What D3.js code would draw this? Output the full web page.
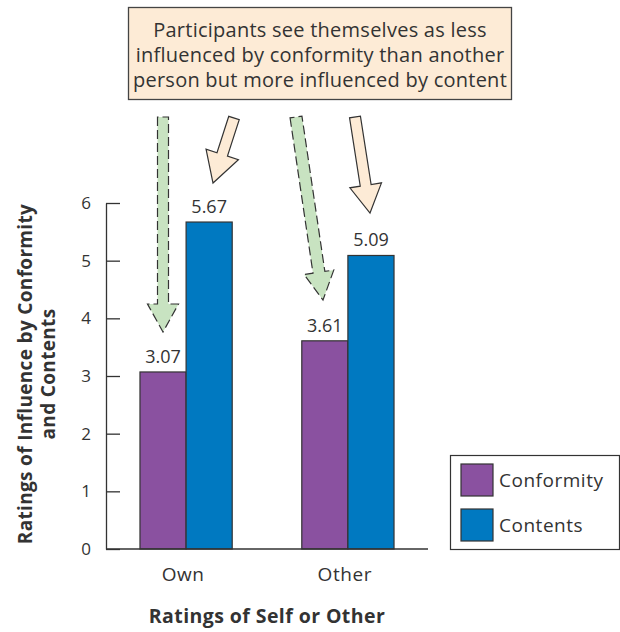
<!DOCTYPE html>
<html>
<head>
<meta charset="utf-8">
<script src="https://cdn.jsdelivr.net/npm/d3@7/dist/d3.min.js"></script>
<style>
  html, body { margin: 0; padding: 0; background: #fff; }
  svg { display: block; }
  text { font-family: "Open Sans", Lato, sans-serif; fill: #333; }
</style>
</head>
<body>
<svg id="chart" width="620" height="632"></svg>
<script>
// ---- data ----
const categories = ["Own", "Other"];
const seriesNames = ["Conformity", "Contents"];
const conformity = [3.07, 3.61];
const contents = [5.67, 5.09];
const yTicks = [0, 1, 2, 3, 4, 5, 6];
const valueLabels = [["3.07", "5.67"], ["3.61", "5.09"]];
const noteLines = [
  "Participants see themselves as less",
  "influenced by conformity than another",
  "person but more influenced by content"
];
const yTitleLines = ["Ratings of Influence by Conformity", "and Contents"];
const xTitle = "Ratings of Self or Other";

const colors = { Conformity: "#8a51a0", Contents: "#0079c1" };
const ink = "#333";

const svg = d3.select("#chart");

// pick a font size so that the reference text width is matched, then spread
// any remainder (after capping the size) as letter-spacing
function fitGroup(sel, refIndex, target, maxSize) {
  const nodes = sel.nodes();
  const ref = nodes[refIndex];
  const base = parseFloat(d3.select(ref).style("font-size"));
  const w = ref.getComputedTextLength();
  let size = Math.min(maxSize, base * target / w);
  nodes.forEach(n => d3.select(n).style("font-size", size.toFixed(2) + "px"));
  const w2 = ref.getComputedTextLength();
  const ls = (target - w2) / Math.max(1, ref.textContent.length - 1);
  nodes.forEach(n => d3.select(n).style("letter-spacing", ls.toFixed(2) + "px"));
}

const x0 = d3.scaleBand().domain(categories).range([106, 428])
  .paddingInner(0.43).paddingOuter(0.21);
const x1 = d3.scaleBand().domain(seriesNames).range([0, x0.bandwidth()]);
const y = d3.scaleLinear().domain([0, 6]).range([549, 203]);
const color = d3.scaleOrdinal().domain(seriesNames).range([colors.Conformity, colors.Contents]);

const rows = categories.map((c, i) => ({
  cat: c,
  vals: [
    { s: "Conformity", v: conformity[i], label: valueLabels[i][0] },
    { s: "Contents", v: contents[i], label: valueLabels[i][1] }
  ]
}));

// bars
const g = svg.append("g");
const groups = g.selectAll("g.grp").data(rows).enter().append("g")
  .attr("class", "grp")
  .attr("transform", d => `translate(${x0(d.cat)},0)`);

groups.selectAll("rect").data(d => d.vals).enter().append("rect")
  .attr("x", d => x1(d.s))
  .attr("y", d => y(d.v))
  .attr("width", x1.bandwidth())
  .attr("height", d => y(0) - y(d.v))
  .attr("fill", d => color(d.s))
  .attr("stroke", ink)
  .attr("stroke-width", 1.2);

groups.selectAll("text.val").data(d => d.vals).enter().append("text")
  .attr("class", "val")
  .attr("x", d => x1(d.s) + x1.bandwidth() / 2)
  .attr("y", d => y(d.v) - 9)
  .attr("text-anchor", "middle")
  .style("font-size", "18px")
  .text(d => d.label);

// y axis
const yAxis = d3.axisLeft(y).tickValues(yTicks).tickFormat(d3.format("d"))
  .tickSizeInner(-14).tickSizeOuter(0).tickPadding(15);
const ya = svg.append("g").attr("transform", "translate(106,0)").call(yAxis);
ya.select(".domain").attr("stroke", ink).attr("stroke-width", 1.3);
ya.selectAll(".tick line").attr("stroke", ink).attr("stroke-width", 1.3);
ya.selectAll(".tick text").style("font-size", "17px").attr("fill", ink)
  .style("font-family", "'Open Sans', sans-serif");

// baseline
svg.append("line")
  .attr("x1", 106).attr("x2", 428)
  .attr("y1", y(0)).attr("y2", y(0))
  .attr("stroke", ink).attr("stroke-width", 1.3);

// x category labels
const cats = svg.selectAll("text.cat").data(categories).enter().append("text")
  .attr("class", "cat")
  .attr("x", d => x0(d) + x0.bandwidth() / 2 - 3)
  .attr("y", 581)
  .attr("text-anchor", "middle")
  .style("font-size", "18px")
  .text(d => d);
fitGroup(cats, 1, 54, 19);

// x title
const xt = svg.append("text")
  .attr("x", 267).attr("y", 623)
  .attr("text-anchor", "middle")
  .style("font-size", "18px").style("font-weight", "bold")
  .text(xTitle);
fitGroup(xt, 0, 236, 19.5);

// y title
const yt = svg.append("text")
  .attr("transform", "translate(0,374) rotate(-90)")
  .attr("text-anchor", "middle")
  .style("font-size", "17px").style("font-weight", "bold");
const ytSpans = yt.selectAll("tspan").data(yTitleLines).enter().append("tspan")
  .attr("x", 0)
  .attr("y", (d, i) => 32 + i * 23)
  .style("font-size", "17px")
  .text(d => d);
fitGroup(ytSpans, 0, 340, 19);

// legend
const lg = svg.append("g");
lg.append("rect").attr("x", 450.5).attr("y", 455.5).attr("width", 169).attr("height", 94)
  .attr("fill", "#fff").attr("stroke", ink).attr("stroke-width", 1.2);
seriesNames.forEach((s, i) => {
  lg.append("rect").attr("x", 461).attr("y", 464 + i * 45).attr("width", 32).attr("height", 32)
    .attr("fill", color(s)).attr("stroke", ink).attr("stroke-width", 1.2);
  lg.append("text").attr("class", "leg").attr("x", 499).attr("y", 487 + i * 45)
    .style("font-size", "18px").text(s);
});
fitGroup(lg.selectAll("text.leg"), 0, 104, 19);

// annotation box
svg.append("rect").attr("x", 128.5).attr("y", 7.5).attr("width", 383).attr("height", 92)
  .attr("fill", "#fdebd6").attr("stroke", "#444").attr("stroke-width", 1.3);
const notes = svg.selectAll("text.note").data(noteLines).enter().append("text")
  .attr("class", "note")
  .attr("x", 320).attr("y", (d, i) => 37 + i * 25)
  .attr("text-anchor", "middle")
  .style("font-size", "18px")
  .text(d => d);
fitGroup(notes, 2, 374, 20);

// arrows (annotation shapes)
function arrowPath(tail, tip, shaftW, headW, headL) {
  const dx = tip[0] - tail[0], dy = tip[1] - tail[1];
  const len = Math.hypot(dx, dy);
  const ux = dx / len, uy = dy / len;
  const px = -uy, py = ux;
  const bx = tip[0] - ux * headL, by = tip[1] - uy * headL;
  const pts = [
    [tail[0] + px * shaftW / 2, tail[1] + py * shaftW / 2],
    [bx + px * shaftW / 2, by + py * shaftW / 2],
    [bx + px * headW / 2, by + py * headW / 2],
    tip,
    [bx - px * headW / 2, by - py * headW / 2],
    [bx - px * shaftW / 2, by - py * shaftW / 2],
    [tail[0] - px * shaftW / 2, tail[1] - py * shaftW / 2]
  ];
  return "M" + pts.map(p => p.join(",")).join("L") + "Z";
}
const arrows = [
  { tail: [163, 117], tip: [163, 332], sw: 11, hw: 31, hl: 28, fill: "#c8e3c1", dash: "9,4" },
  { tail: [234, 118], tip: [213, 183], sw: 11, hw: 34, hl: 30, fill: "#fdebd6", dash: null },
  { tail: [296, 117], tip: [323, 300], sw: 12, hw: 30, hl: 28, fill: "#c8e3c1", dash: "9,4" },
  { tail: [355, 117], tip: [370, 213], sw: 11, hw: 32, hl: 28, fill: "#fdebd6", dash: null }
];
svg.selectAll("path.arrow").data(arrows).enter().append("path")
  .attr("class", "arrow")
  .attr("d", d => arrowPath(d.tail, d.tip, d.sw, d.hw, d.hl))
  .attr("fill", d => d.fill)
  .attr("stroke", ink)
  .attr("stroke-width", 1.2)
  .attr("stroke-dasharray", d => d.dash);
</script>
</body>
</html>
